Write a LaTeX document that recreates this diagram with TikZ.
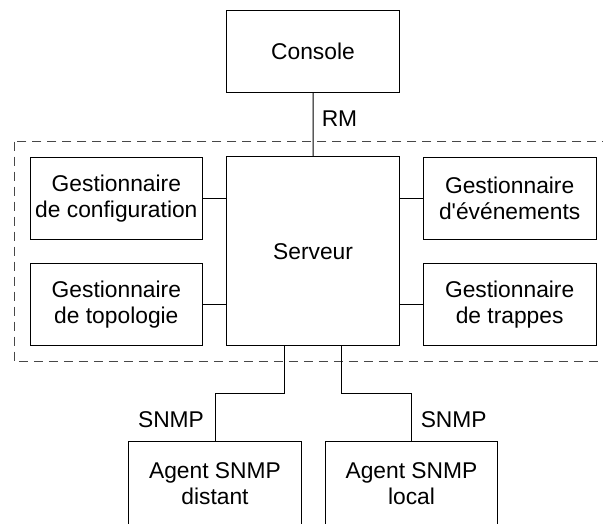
\documentclass[tikz,border=0pt]{standalone}
\usepackage{fontspec}
\setmainfont{Liberation Sans}
\begin{document}
\begin{tikzpicture}[x=1pt,y=-1pt,
  box/.style={draw=black, line width=1pt, fill=white, align=center, inner sep=0pt,
    font=\fontsize{22.8pt}{26pt}\selectfont},
  lbl/.style={inner sep=0pt, font=\fontsize{22.8pt}{26pt}\selectfont},
  conn/.style={draw=black, line width=1pt},
  grp/.style={draw=black!72, line width=1pt, dash pattern=on 9pt off 6pt}]
\useasboundingbox (0,0) rectangle (603,523);
\clip (0,0) rectangle (603,523);
% group frame
\draw[grp] (14,141.5) rectangle (640,361.7);
% boxes
\node[box, minimum width=172.6pt, minimum height=81.6pt] (console) at (313,51.5) {Console};
\node[box, minimum width=172.8pt, minimum height=189pt] (serveur) at (313.1,251.2) {Serveur};
\node[box, minimum width=172.7pt, minimum height=82pt] (gc) at (116.35,198.3) {Gestionnaire\\de configuration};
\node[box, minimum width=172.7pt, minimum height=82.4pt] (gt) at (116.35,304.5) {Gestionnaire\\de topologie};
\node[box, minimum width=173.3pt, minimum height=82pt] (ge) at (509.65,198.3) {Gestionnaire\\d\textquotesingle événements};
\node[box, minimum width=173.3pt, minimum height=82.4pt] (gtr) at (509.65,304.5) {Gestionnaire\\de trappes};
\node[box, minimum width=173.4pt, minimum height=84pt] (a1) at (215,483.7) {Agent SNMP\\distant};
\node[box, minimum width=172.5pt, minimum height=84pt] (a2) at (411.5,483.7) {Agent SNMP\\local};
% connectors
\draw[conn] (console) -- (serveur);
\draw[conn] (gc.east) -- (gc.east -| serveur.west);
\draw[conn] (gt.east) -- (gt.east -| serveur.west);
\draw[conn] (ge.west) -- (ge.west -| serveur.east);
\draw[conn] (gtr.west) -- (gtr.west -| serveur.east);
\draw[conn] ([xshift=-29.1pt]serveur.south) -- ++(0,47.6) -| (a1.north);
\draw[conn] ([xshift=28.6pt]serveur.south) -- ++(0,47.6) -| (a2.north);
% labels
\node[lbl] (rm) at (339.5,118.2) {RM};
\node[lbl] (s1) at (171,419.2) {SNMP};
\node[lbl] (s2) at (453.7,419.2) {SNMP};
\end{tikzpicture}
\end{document}
